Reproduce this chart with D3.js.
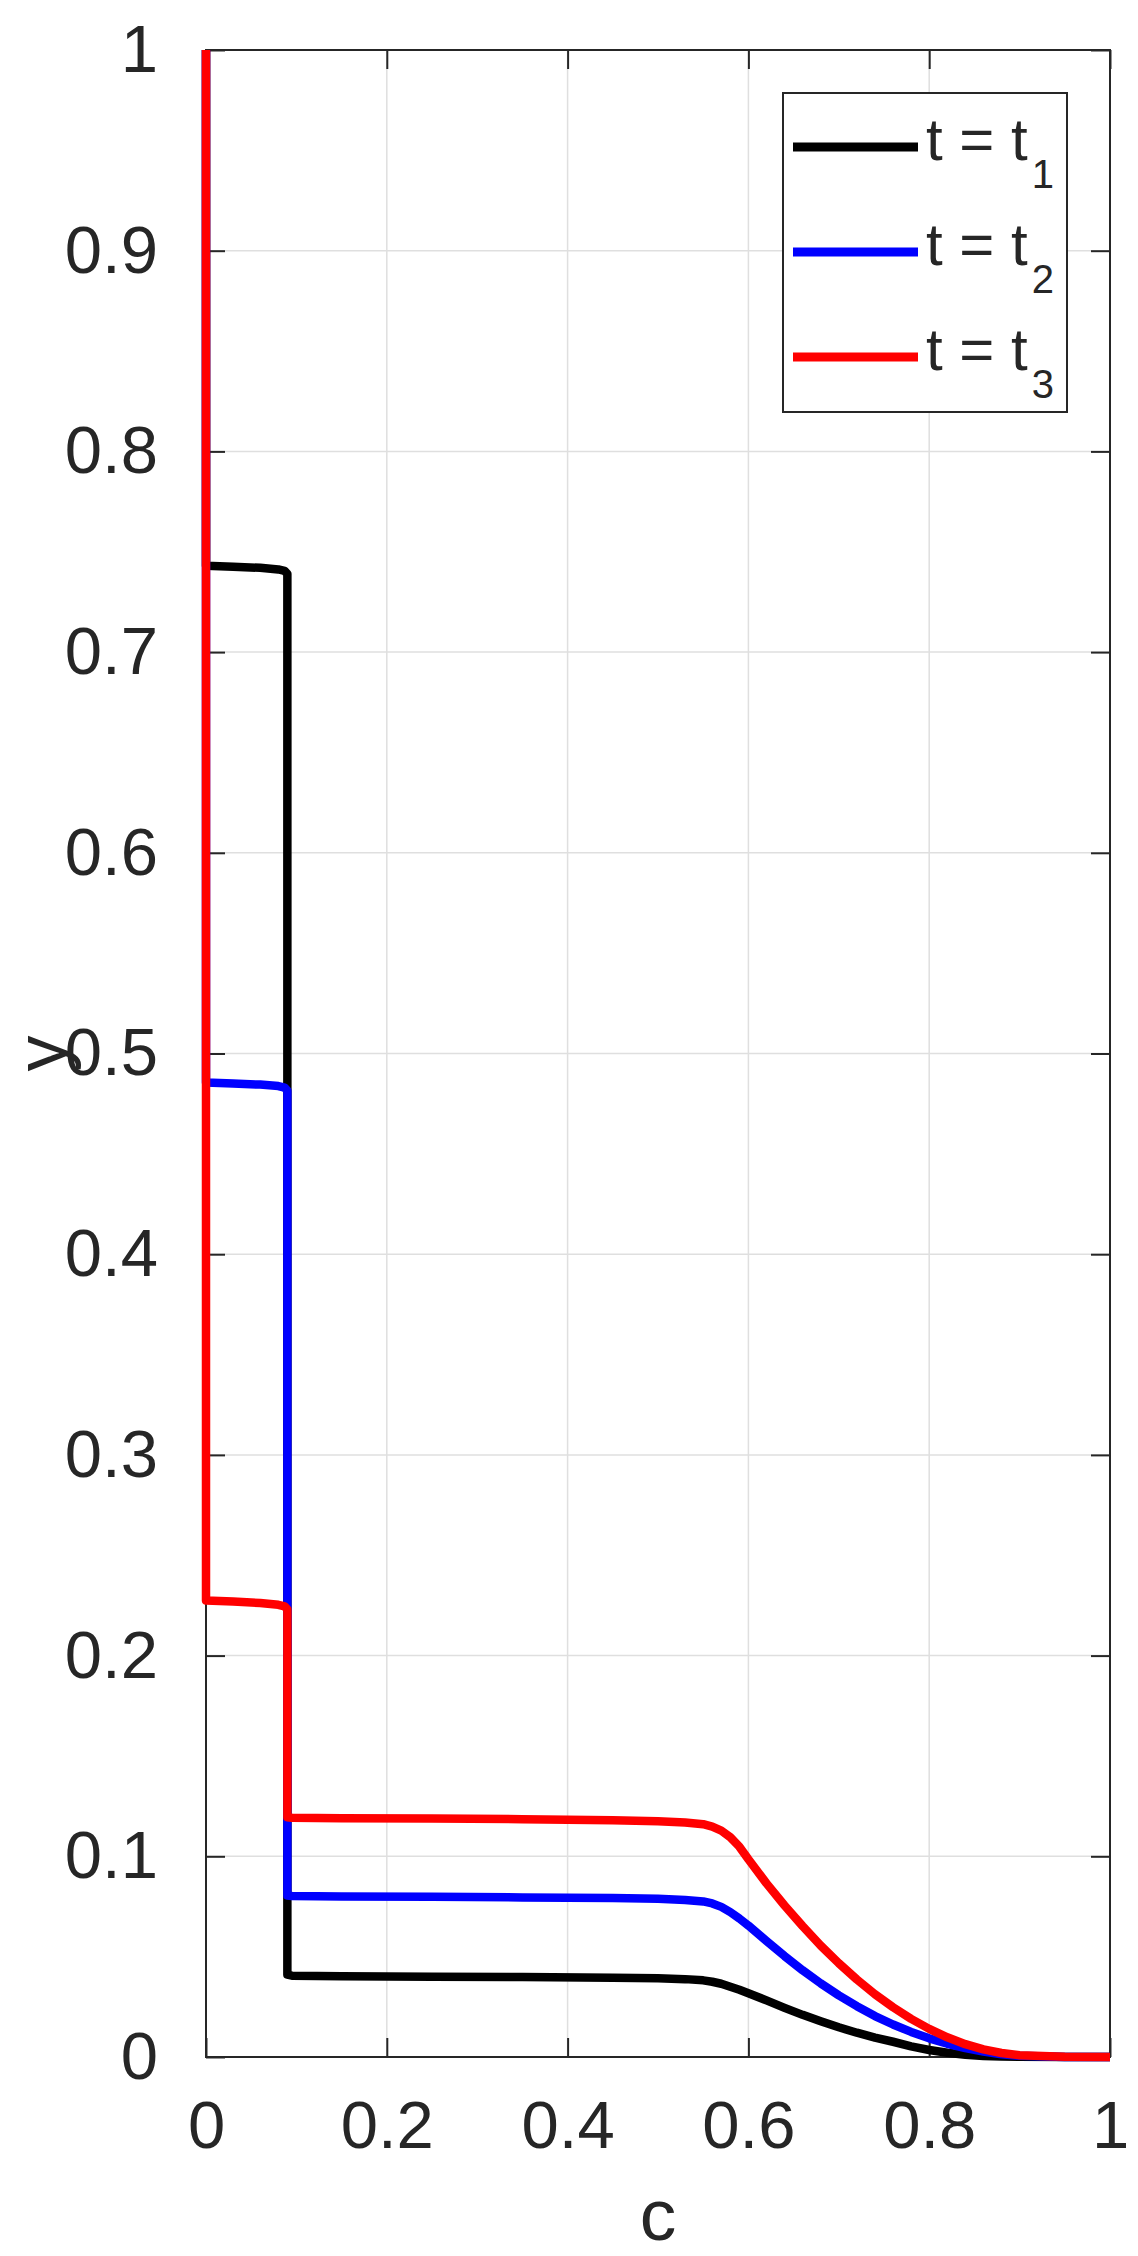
<!DOCTYPE html>
<html>
<head>
<meta charset="utf-8">
<script src="https://cdn.jsdelivr.net/npm/d3@7"></script>
<style>
  body { margin: 0; background: #fff; }
  text { font-family: "Liberation Sans", Arial, sans-serif; fill: #262626; }
</style>
</head>
<body>
<svg id="grafico"></svg>
<script>
const largura = 1138;
const altura = 2256;
const margem = { top: 50, right: 28, bottom: 199, left: 206 };

// eixo c (comum às três curvas)
const cValores = [0, 0, 0.03, 0.06, 0.08, 0.087, 0.09, 0.09, 0.095, 0.15, 0.25, 0.35, 0.45, 0.5, 0.53, 0.55, 0.56, 0.57, 0.58, 0.59, 0.6, 0.62, 0.64, 0.66, 0.68, 0.7, 0.72, 0.74, 0.76, 0.78, 0.8, 0.82, 0.84, 0.86, 0.88, 0.9, 0.95, 1];

// y para t = t1, t2, t3
const yT1 = [1, 0.743, 0.7425, 0.742, 0.7412, 0.7405, 0.739, 0.041, 0.0405, 0.0402, 0.040, 0.0398, 0.0395, 0.0392, 0.0388, 0.0382, 0.0375, 0.0365, 0.035, 0.0335, 0.0318, 0.0282, 0.0245, 0.021, 0.0178, 0.0148, 0.0121, 0.0097, 0.0076, 0.0053, 0.0035, 0.0021, 0.0011, 0.0005, 0.0002, 0.0001, 0, 0];
const yT2 = [1, 0.4855, 0.485, 0.4845, 0.4838, 0.483, 0.4815, 0.0805, 0.0802, 0.080, 0.0798, 0.0795, 0.0792, 0.0788, 0.0782, 0.0775, 0.0765, 0.0748, 0.0722, 0.069, 0.0655, 0.0578, 0.0503, 0.0432, 0.0367, 0.0307, 0.0253, 0.0204, 0.0162, 0.0125, 0.0093, 0.0066, 0.0044, 0.0027, 0.0014, 0.0006, 0, 0];
const yT3 = [1, 0.2275, 0.227, 0.2262, 0.2253, 0.2245, 0.223, 0.1195, 0.1192, 0.119, 0.1188, 0.1185, 0.118, 0.1175, 0.1168, 0.116, 0.1148, 0.1128, 0.1095, 0.1048, 0.0985, 0.0865, 0.0755, 0.0652, 0.0555, 0.0467, 0.0386, 0.0313, 0.0248, 0.019, 0.014, 0.0098, 0.0064, 0.0038, 0.002, 0.0009, 0.0001, 0];

const nomes = ["1", "2", "3"];
const cores = ["#000000", "#0000ff", "#ff0000"];
const xTicks = [0, 0.2, 0.4, 0.6, 0.8, 1];
const yTicks = [0, 0.1, 0.2, 0.3, 0.4, 0.5, 0.6, 0.7, 0.8, 0.9, 1];

const svg = d3.select("#grafico")
                .attr("width", largura)
                .attr("height", altura);

const x = d3.scaleLinear()
            .domain([0, 1])
            .range([margem.left, largura - margem.right]);

const y = d3.scaleLinear()
            .domain([0, 1])
            .range([altura - margem.bottom, margem.top]);

const corEixo = "#262626";
const corGrade = "#dfdfdf";
const tamTick = 19;

// Grade
svg.append("g")
   .selectAll("line")
   .data(xTicks.slice(1, -1))
   .join("line")
   .attr("x1", d => x(d)).attr("x2", d => x(d))
   .attr("y1", y(0)).attr("y2", y(1))
   .attr("stroke", corGrade).attr("stroke-width", 1.5);

svg.append("g")
   .selectAll("line")
   .data(yTicks.slice(1, -1))
   .join("line")
   .attr("y1", d => y(d)).attr("y2", d => y(d))
   .attr("x1", x(0)).attr("x2", x(1))
   .attr("stroke", corGrade).attr("stroke-width", 1.5);

// Eixos (ticks para dentro, nos quatro lados)
const eixoX = svg.append("g")
   .attr("transform", `translate(0, ${y(0)})`)
   .call(d3.axisBottom(x).tickValues(xTicks).tickFormat(d3.format("~g"))
         .tickSizeInner(-tamTick).tickSizeOuter(0).tickPadding(tamTick + 24));
eixoX.select(".domain").remove();
eixoX.selectAll("line").attr("stroke", corEixo).attr("stroke-width", 2);
eixoX.selectAll("text").attr("font-size", 67).attr("fill", corEixo)
     .attr("font-family", "Liberation Sans, Arial, sans-serif");

const eixoXTopo = svg.append("g")
   .attr("transform", `translate(0, ${y(1)})`)
   .call(d3.axisTop(x).tickValues(xTicks).tickFormat("").tickSizeInner(-tamTick).tickSizeOuter(0));
eixoXTopo.select(".domain").remove();
eixoXTopo.selectAll("line").attr("stroke", corEixo).attr("stroke-width", 2);

const eixoY = svg.append("g")
   .attr("transform", `translate(${x(0)}, 0)`)
   .call(d3.axisLeft(y).tickValues(yTicks).tickFormat(d3.format("~g"))
         .tickSizeInner(-tamTick).tickSizeOuter(0).tickPadding(tamTick + 29));
eixoY.select(".domain").remove();
eixoY.selectAll("line").attr("stroke", corEixo).attr("stroke-width", 2);
eixoY.selectAll("text").attr("font-size", 67).attr("fill", corEixo)
     .attr("font-family", "Liberation Sans, Arial, sans-serif");

const eixoYDir = svg.append("g")
   .attr("transform", `translate(${x(1)}, 0)`)
   .call(d3.axisRight(y).tickValues(yTicks).tickFormat("").tickSizeInner(-tamTick).tickSizeOuter(0));
eixoYDir.select(".domain").remove();
eixoYDir.selectAll("line").attr("stroke", corEixo).attr("stroke-width", 2);

// Caixa
svg.append("rect")
   .attr("x", x(0)).attr("y", y(1))
   .attr("width", x(1) - x(0)).attr("height", y(0) - y(1))
   .attr("fill", "none").attr("stroke", corEixo).attr("stroke-width", 2);

// Linhas
const series = [yT1, yT2, yT3].map((ys, i) => ({
    nome: nomes[i],
    cor: cores[i],
    valores: cValores.map((c, j) => ({ c: c, y: ys[j] }))
}));

const linha = d3.line()
    .x(d => x(d.c))
    .y(d => y(d.y));

svg.append("g")
   .selectAll("path")
   .data(series)
   .join("path")
   .attr("fill", "none")
   .attr("stroke", d => d.cor)
   .attr("stroke-width", 8.5)
   .attr("stroke-linejoin", "round")
   .attr("d", d => linha(d.valores));

// Rótulos dos eixos
svg.append("text")
   .attr("x", x(0.5))
   .attr("y", 2240)
   .attr("text-anchor", "middle")
   .attr("font-size", 73)
   .text("c");

svg.append("text")
   .attr("transform", `translate(66, ${y(0.5)}) rotate(-90)`)
   .attr("text-anchor", "middle")
   .attr("font-size", 72)
   .text("y");

// Legenda
const legenda = svg.append("g");
legenda.append("rect")
   .attr("x", 783).attr("y", 93)
   .attr("width", 284).attr("height", 319)
   .attr("fill", "#fff").attr("stroke", corEixo).attr("stroke-width", 2);

const itens = legenda.selectAll("g.item")
   .data(series)
   .join("g")
   .attr("class", "item")
   .attr("transform", (d, i) => `translate(0, ${147 + i * 105})`);

itens.append("line")
   .attr("x1", 793).attr("x2", 918)
   .attr("stroke", d => d.cor).attr("stroke-width", 9);

const rotulo = itens.append("text")
   .attr("x", 926).attr("y", 13)
   .attr("font-size", 60)
   .attr("fill", "#000");
rotulo.append("tspan").text("t = t");
rotulo.append("tspan")
   .attr("dy", 28).attr("dx", 4)
   .attr("font-size", 40)
   .text(d => d.nome);
</script>
</body>
</html>
